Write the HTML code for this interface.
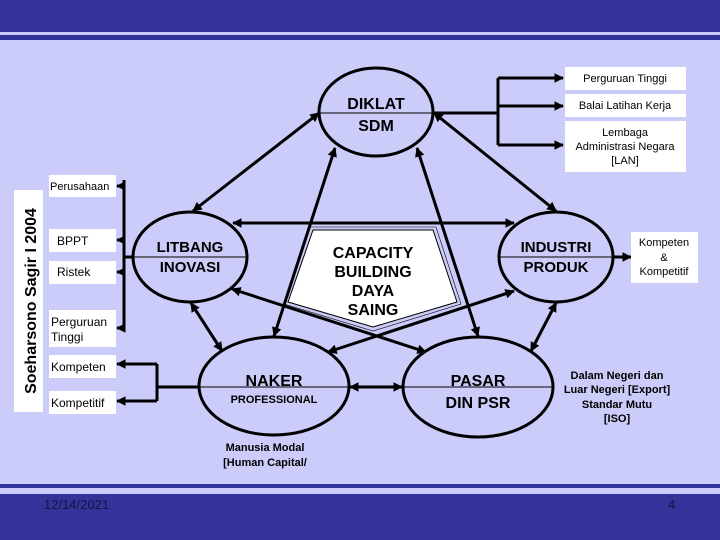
<!DOCTYPE html>
<html><head><style>
body{margin:0;width:720px;height:540px;overflow:hidden;background:#ccccfa;}
svg{display:block}
text{font-family:"Liberation Sans",sans-serif;}
</style></head><body>
<svg width="720" height="540" viewBox="0 0 720 540" xmlns="http://www.w3.org/2000/svg">
<defs>
<marker id="a" viewBox="0 0 10 10" refX="9" refY="5" markerWidth="3.2" markerHeight="3.2" orient="auto-start-reverse"><path d="M0,0 L10,5 L0,10 z" fill="#000"/></marker>
</defs>
<rect width="720" height="540" fill="#ccccfa"/>
<rect x="0" y="0" width="720" height="32" fill="#333399"/>
<rect x="0" y="35" width="720" height="5" fill="#333399"/>
<rect x="0" y="484" width="720" height="4" fill="#333399"/>
<rect x="0" y="494" width="720" height="46" fill="#333399"/>
<text x="44" y="509" font-size="13" fill="#141440">12/14/2021</text>
<text x="668" y="509" font-size="13" fill="#141440">4</text>

<!-- pentagon -->
<polygon points="313,230 433,230 457,302 373,327 288,302" fill="#fff" stroke="#000" stroke-width="1"/>
<polygon points="310,227 436,227 461,304 373,331 284,304" fill="none" stroke="#000" stroke-width="0.6"/>
<g font-size="16" font-weight="bold" text-anchor="middle" fill="#000">
<text x="373" y="258">CAPACITY</text>
<text x="373" y="277">BUILDING</text>
<text x="373" y="296">DAYA</text>
<text x="373" y="315">SAING</text>
</g>

<g stroke="#000" stroke-width="3" fill="none" marker-start="url(#a)" marker-end="url(#a)">
<line x1="319" y1="113" x2="193" y2="211"/>
<line x1="434" y1="113" x2="556" y2="211"/>
<line x1="335" y1="148" x2="274" y2="336"/>
<line x1="417" y1="148" x2="478" y2="336"/>
<line x1="233" y1="223" x2="514" y2="223"/>
<line x1="232" y1="289" x2="426" y2="352"/>
<line x1="514" y1="291" x2="328" y2="352"/>
<line x1="191" y1="303" x2="222" y2="351"/>
<line x1="556" y1="303" x2="531" y2="351"/>
<line x1="350" y1="387" x2="402" y2="387"/>
</g>
<g stroke="#000" stroke-width="3" fill="none">
<line x1="434" y1="113" x2="498" y2="113"/>
<line x1="498" y1="78" x2="498" y2="145"/>
<line x1="124" y1="180" x2="124" y2="328"/>
<line x1="133" y1="257" x2="124" y2="257"/>
<line x1="199" y1="387" x2="157" y2="387"/>
<line x1="157" y1="364" x2="157" y2="401"/>
</g>
<g stroke="#000" stroke-width="3" marker-end="url(#a)">
<line x1="498" y1="78" x2="563" y2="78"/>
<line x1="498" y1="106" x2="563" y2="106"/>
<line x1="498" y1="145" x2="563" y2="145"/>
<line x1="613" y1="257" x2="631" y2="257"/>
<line x1="124" y1="186" x2="117" y2="186"/>
<line x1="124" y1="240" x2="117" y2="240"/>
<line x1="124" y1="272" x2="117" y2="272"/>
<line x1="124" y1="328" x2="117" y2="328"/>
<line x1="157" y1="364" x2="117" y2="364"/>
<line x1="157" y1="401" x2="117" y2="401"/>
</g>

<!-- ellipses -->
<g fill="#ccccfa" stroke="#000" stroke-width="3">
<ellipse cx="376" cy="112" rx="57" ry="44"/>
<ellipse cx="190" cy="257" rx="57" ry="45"/>
<ellipse cx="556" cy="257" rx="57" ry="45"/>
<ellipse cx="274" cy="386" rx="75" ry="49"/>
<ellipse cx="478" cy="387" rx="75" ry="50"/>
</g>
<g stroke="#000" stroke-width="1">
<line x1="319" y1="113" x2="433" y2="113"/>
<line x1="133" y1="257" x2="247" y2="257"/>
<line x1="499" y1="257" x2="613" y2="257"/>
<line x1="199" y1="387" x2="349" y2="387"/>
<line x1="403" y1="387" x2="553" y2="387"/>
</g>
<g text-anchor="middle" fill="#000" font-weight="bold">
<text x="376" y="109" font-size="16">DIKLAT</text>
<text x="376" y="131" font-size="16">SDM</text>
<text x="190" y="252" font-size="15">LITBANG</text>
<text x="190" y="272" font-size="15">INOVASI</text>
<text x="556" y="252" font-size="15">INDUSTRI</text>
<text x="556" y="272" font-size="15">PRODUK</text>
<text x="274" y="386" font-size="16">NAKER</text>
<text x="274" y="403" font-size="11">PROFESSIONAL</text>
<text x="478" y="386" font-size="16">PASAR</text>
<text x="478" y="408" font-size="16">DIN PSR</text>
<text x="265" y="451" font-size="11">Manusia Modal</text>
<text x="265" y="466" font-size="11">[Human Capital/</text>
<text x="617" y="379" font-size="11">Dalam Negeri dan</text>
<text x="617" y="393" font-size="11">Luar Negeri [Export]</text>
<text x="617" y="408" font-size="11">Standar Mutu</text>
<text x="617" y="422" font-size="11">[ISO]</text>
</g>

<!-- boxes -->
<g fill="#fff">
<rect x="565" y="67" width="121" height="23"/>
<rect x="565" y="94" width="121" height="23"/>
<rect x="565" y="121" width="121" height="51"/>
<rect x="631" y="232" width="67" height="51"/>
<rect x="14" y="190" width="29" height="222"/>
<rect x="49" y="175" width="67" height="22"/>
<rect x="49" y="229" width="67" height="23"/>
<rect x="49" y="261" width="67" height="23"/>
<rect x="49" y="310" width="67" height="37"/>
<rect x="49" y="355" width="67" height="23"/>
<rect x="49" y="391" width="67" height="23"/>
</g>
<g font-size="11" fill="#000">
<text x="625" y="82" text-anchor="middle">Perguruan Tinggi</text>
<text x="625" y="109" text-anchor="middle">Balai Latihan Kerja</text>
<text x="625" y="136" text-anchor="middle">Lembaga</text>
<text x="625" y="150" text-anchor="middle">Administrasi Negara</text>
<text x="625" y="164" text-anchor="middle">[LAN]</text>
<text x="664" y="246" text-anchor="middle">Kompeten</text>
<text x="664" y="261" text-anchor="middle">&amp;</text>
<text x="664" y="275" text-anchor="middle">Kompetitif</text>
<text x="50" y="190">Perusahaan</text>
<text x="57" y="245" font-size="12">BPPT</text>
<text x="57" y="276" font-size="12">Ristek</text>
<text x="51" y="326" font-size="12">Perguruan</text>
<text x="51" y="341" font-size="12">Tinggi</text>
<text x="51" y="371" font-size="12">Kompeten</text>
<text x="51" y="407" font-size="12">Kompetitif</text>
</g>
<text transform="translate(36,301) rotate(-90)" text-anchor="middle" font-size="16" font-weight="bold" fill="#000">Soeharsono Sagir I 2004</text>
</svg>
</body></html>
